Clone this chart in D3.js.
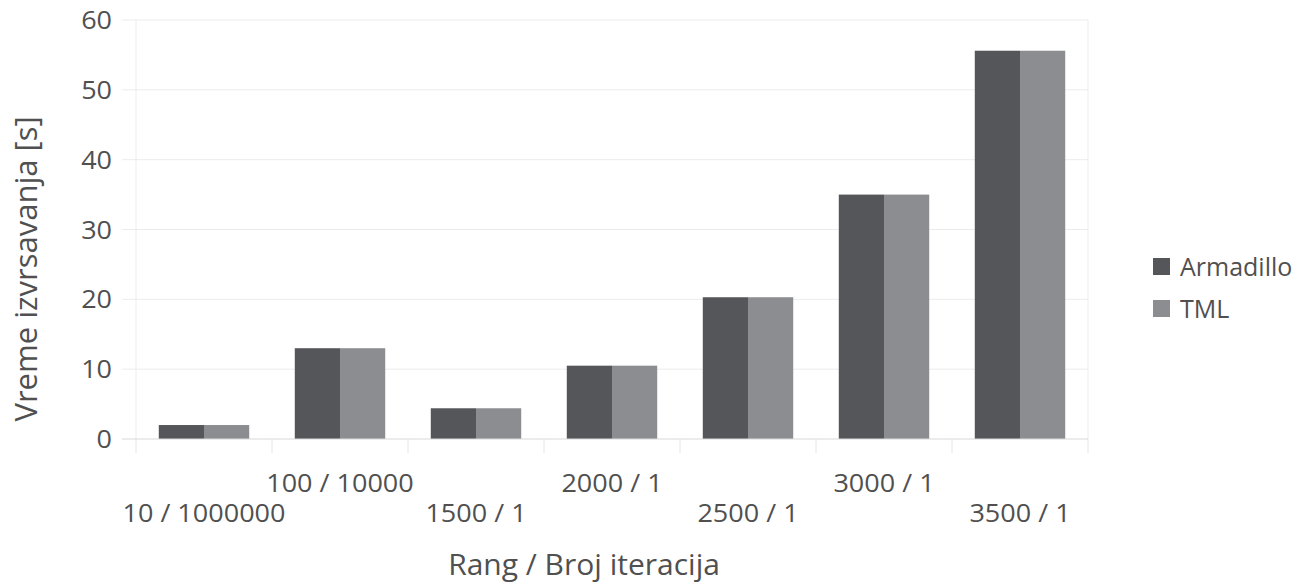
<!DOCTYPE html>
<html><head><meta charset="utf-8">
<script src="https://cdn.jsdelivr.net/npm/d3@7"></script>
<style>body{margin:0;background:#fff;}svg{display:block;font-family:"Open Sans",sans-serif;}</style>
</head><body><svg id="c" width="1299" height="585"></svg>
<script>
const categories = ["10 / 1000000","100 / 10000","1500 / 1","2000 / 1","2500 / 1","3000 / 1","3500 / 1"];
const seriesNames = ["Armadillo","TML"];
const armadillo = [2.0, 13.0, 4.4, 10.5, 20.3, 35.0, 55.6];
const tml = [2.0, 13.0, 4.4, 10.5, 20.3, 35.0, 55.6];
const yTicks = [0,10,20,30,40,50,60];
const colors = ["#55565a","#8c8d91"];

const svg = d3.select("#c");
const L=136,R=1088,T=20,B=439;
const x = d3.scaleBand().domain(categories).range([L,R]).paddingInner(0.335).paddingOuter(0.1675);
const xs = d3.scaleBand().domain(seriesNames).range([0,x.bandwidth()]);
const y = d3.scaleLinear().domain([0,60]).range([B,T]);
const step = (R-L)/categories.length;
const txt = "#505050";

svg.append("g").selectAll("line").data(yTicks.filter(d=>d>0)).join("line")
  .attr("x1",122).attr("x2",R).attr("y1",d=>y(d)).attr("y2",d=>y(d))
  .attr("stroke","#ececec").attr("stroke-width",1);
svg.append("line").attr("x1",L).attr("x2",L).attr("y1",T).attr("y2",B).attr("stroke","#ececec");
svg.append("line").attr("x1",R).attr("x2",R).attr("y1",T).attr("y2",B).attr("stroke","#ececec");
svg.append("g").selectAll("line").data(d3.range(categories.length+1)).join("line")
  .attr("x1",i=>L+i*step).attr("x2",i=>L+i*step).attr("y1",B).attr("y2",B+14)
  .attr("stroke","#e6e6e6");

const data = categories.map((c,i)=>({c, vals:[armadillo[i],tml[i]]}));
const g = svg.append("g").selectAll("g").data(data).join("g").attr("transform",d=>`translate(${x(d.c)},0)`);
g.selectAll("rect").data(d=>d.vals.map((v,j)=>({v,s:seriesNames[j],j}))).join("rect")
  .attr("x",d=>xs(d.s)).attr("width",xs.bandwidth())
  .attr("y",d=>y(d.v)).attr("height",d=>B-y(d.v))
  .attr("fill",d=>colors[d.j]);

svg.append("line").attr("x1",122).attr("x2",R).attr("y1",B).attr("y2",B).attr("stroke","#d9d9d9");

svg.append("g").selectAll("text").data(yTicks).join("text")
  .attr("transform",d=>`translate(112,${y(d)}) scale(1.08,1)`).attr("dy","0.36em").attr("text-anchor","end")
  .attr("font-size",25).attr("fill",txt).text(d=>d);

svg.append("g").selectAll("text").data(categories).join("text")
  .attr("transform",(d,i)=>`translate(${x(d)+x.bandwidth()/2},${i%2===0?522:492}) scale(1.06,1)`)
  .attr("text-anchor","middle").attr("font-size",25.5).attr("fill",txt).text(d=>d);

svg.append("text").attr("x",584).attr("y",575).attr("text-anchor","middle")
  .attr("font-size",30).attr("fill",txt).text("Rang / Broj iteracija");
svg.append("text").attr("transform","translate(37,269) rotate(-90)").attr("text-anchor","middle")
  .attr("font-size",31).attr("fill",txt).text("Vreme izvrsavanja [s]");

const lg = svg.append("g").selectAll("g").data(seriesNames).join("g")
  .attr("transform",(d,i)=>`translate(1153,${258+i*42})`);
lg.append("rect").attr("width",17).attr("height",17).attr("fill",(d,i)=>colors[i]);
lg.append("text").attr("x",27).attr("y",9).attr("dy","0.36em").attr("font-size",25).attr("fill",txt).text(d=>d);
</script></body></html>
